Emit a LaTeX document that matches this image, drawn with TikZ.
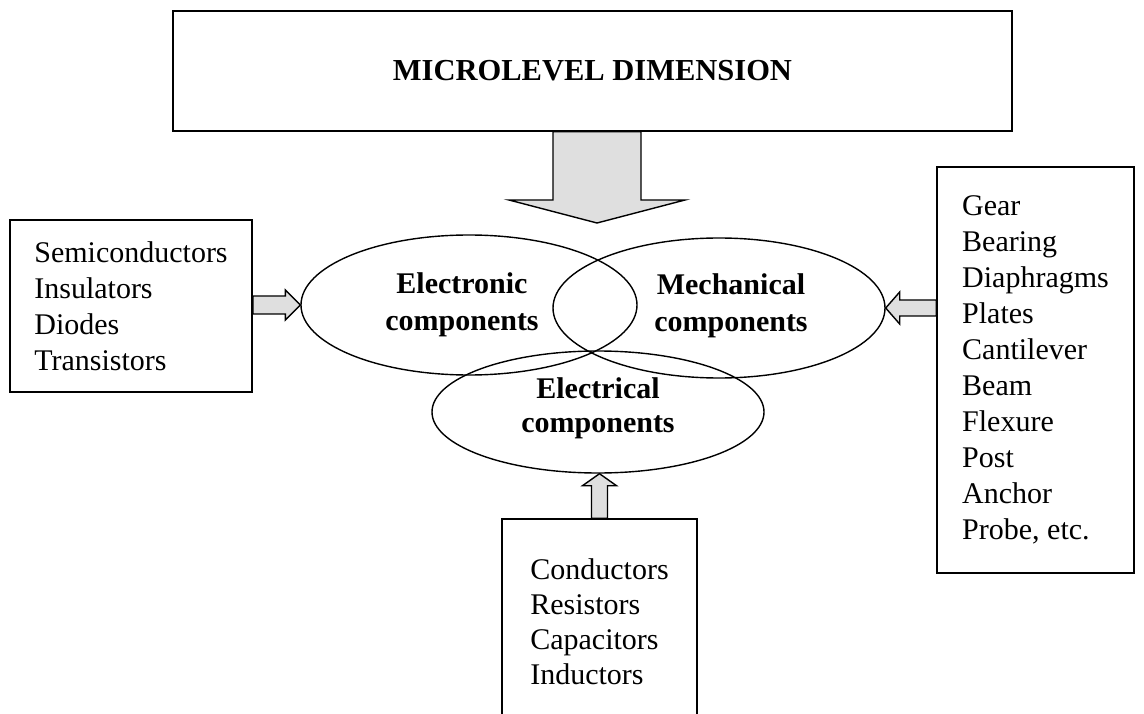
\documentclass[tikz,border=0pt]{standalone}
\usepackage{fontspec}
\setmainfont{Liberation Serif}
\usetikzlibrary{shapes.geometric,calc}
\begin{document}
\begin{tikzpicture}[x=1pt,y=-1pt,
 box/.style={draw,line width=1.6pt,rectangle,inner sep=0pt,font=\fontsize{30}{36}\selectfont,align=left},
 ell/.style={draw,line width=1.4pt,ellipse,inner sep=0pt},
 elabel/.style={font=\bfseries\fontsize{30}{37}\selectfont,align=center,inner sep=0pt},
 fat/.style={draw,line width=1.4pt,fill=gray!25,line join=miter}]
\useasboundingbox (0,0) rectangle (1144,714);
\fill[white] (0,0) rectangle (1144,714);
% boxes
\node[box,minimum width=839,minimum height=120,font=\bfseries\fontsize{30.5}{36}\selectfont] (top) at (592.5,71) {MICROLEVEL DIMENSION};
\node[box,minimum width=242,minimum height=172] (left) at (131,306) {Semiconductors\\Insulators\\Diodes\\Transistors};
\node[box,minimum width=197,minimum height=406] (right) at (1035.5,370) {Gear\\Bearing\\Diaphragms\\Plates\\Cantilever\\Beam\\Flexure\\Post\\Anchor\\Probe, etc.};
\node[box,minimum width=195,minimum height=206,font=\fontsize{30}{35}\selectfont] (bottom) at (599.5,622) {Conductors\\Resistors\\Capacitors\\Inductors};
% ellipses
\node[ell,minimum width=336,minimum height=140] (etr) at (469,305) {};
\node[ell,minimum width=332,minimum height=140] (mech) at (719,308) {};
\node[ell,minimum width=332,minimum height=122] (elc) at (598,412) {};
\node[elabel] (etrL) at (462,305) {Electronic\\components};
\node[elabel] (mechL) at (731,306) {Mechanical\\components};
\node[elabel,font=\bfseries\fontsize{30}{34}\selectfont] (elcL) at (598,408) {Electrical\\components};
% hollow arrows
\coordinate (toptip) at (597,223);
\draw[fat] ($(toptip|-top.south)+(-44,0)$) -- ($(toptip)+(-44,-23)$) -- ($(toptip)+(-88,-23)$) -- (toptip)
  -- ($(toptip)+(88,-23)$) -- ($(toptip)+(44,-23)$) -- ($(toptip|-top.south)+(44,0)$) -- cycle;
\draw[fat] ($(left.east|-etr.west)+(0,-9)$) -- ($(etr.west)+(-15,-9)$) -- ($(etr.west)+(-15,-15)$) -- (etr.west)
  -- ($(etr.west)+(-15,15)$) -- ($(etr.west)+(-15,9)$) -- ($(left.east|-etr.west)+(0,9)$) -- cycle;
\draw[fat] ($(right.west|-mech.east)+(0,-8)$) -- ($(mech.east)+(14,-8)$) -- ($(mech.east)+(14,-16)$) -- (mech.east)
  -- ($(mech.east)+(14,16)$) -- ($(mech.east)+(14,8)$) -- ($(right.west|-mech.east)+(0,8)$) -- cycle;
\draw[fat] ($(bottom.north)+(-8,0)$) -- ($(bottom.north|-elc.south)+(-8,12)$) -- ($(bottom.north|-elc.south)+(-17,12)$) -- (bottom.north|-elc.south)
  -- ($(bottom.north|-elc.south)+(17,12)$) -- ($(bottom.north|-elc.south)+(8,12)$) -- ($(bottom.north)+(8,0)$) -- cycle;
\end{tikzpicture}
\end{document}
